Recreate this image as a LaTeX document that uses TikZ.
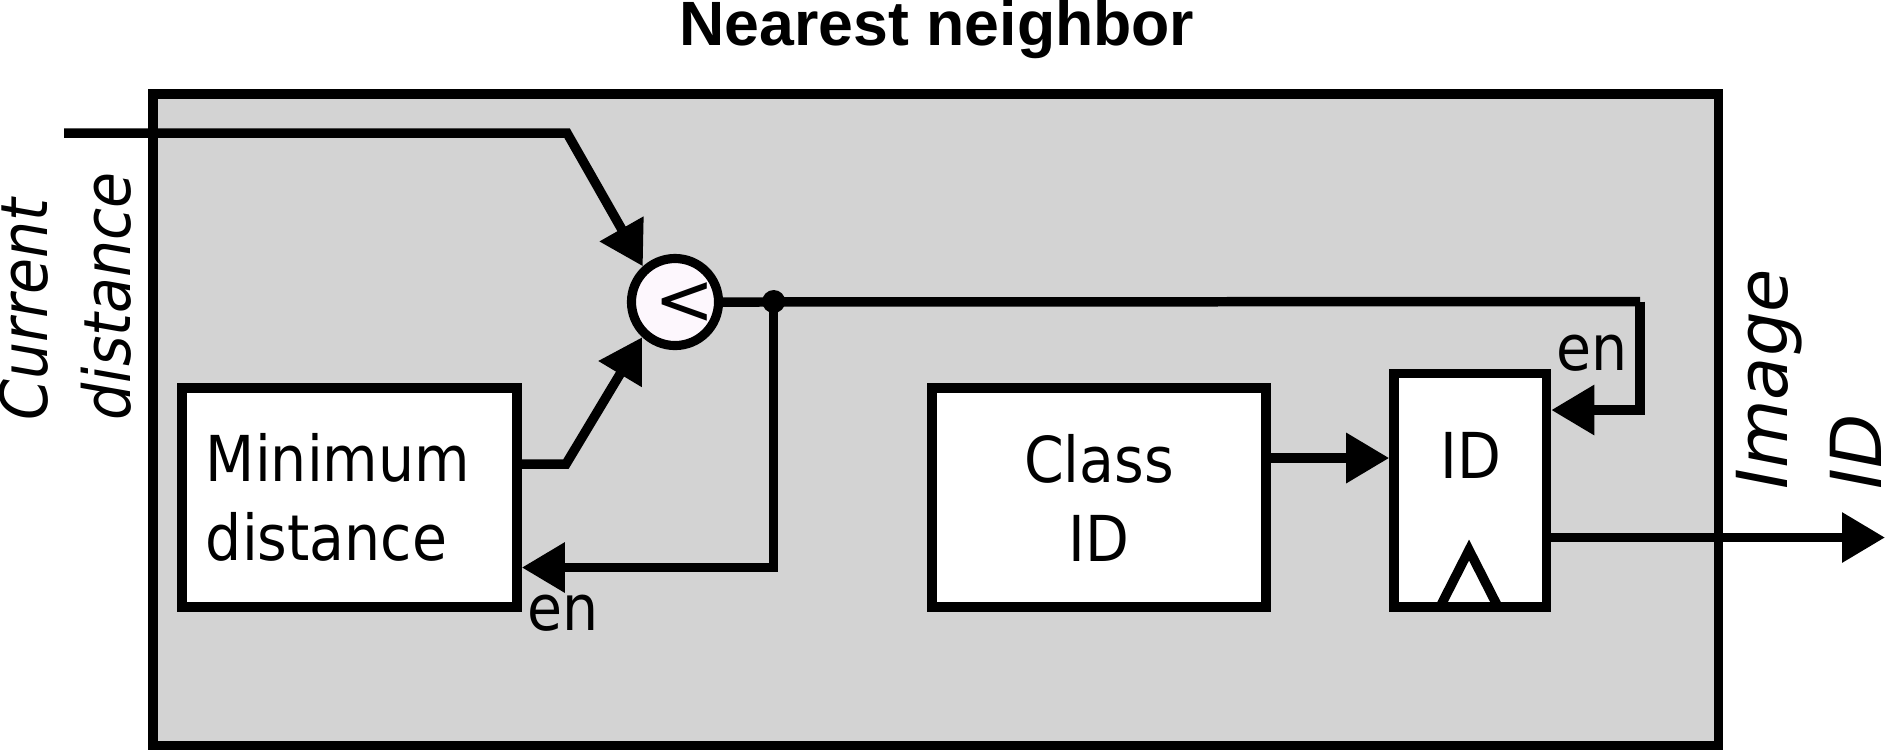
\documentclass[tikz,border=0pt]{standalone}
\usepackage{fontspec}
\setmainfont{DejaVu Sans}[FakeStretch=0.9]
\newfontfamily\plainfont{DejaVu Sans}
\newfontfamily\titlefont{Liberation Sans}
\usetikzlibrary{positioning,
                arrows.meta}                % arrow tips

\definecolor{framegray}{RGB}{211,211,211}
\definecolor{cmpfill}{RGB}{253,247,253}

\tikzset{
  wire/.style={line width=2.7pt},
  arr/.style={wire, -{Triangle[length=0.43cm, width=0.48cm]}},
  block/.style={draw, line width=2.7pt, fill=white, inner sep=0pt},
}

\begin{document}
\begin{tikzpicture}[x=0.01cm, y=-0.01cm, font=\fontsize{18}{22.5}\selectfont]
        \useasboundingbox (0,0) rectangle (1885,750);

        \node[anchor=base, font=\titlefont\bfseries\fontsize{17.8}{21}\selectfont] (title) at (937,45) {Nearest neighbor};

        \draw[fill=framegray, line width=2.7pt] (153,94) rectangle (1718.5,745.5);

        % blocks
        \node[block, minimum width=3.35cm, minimum height=2.19cm, text width=2.87cm, align=left] (mindist) at (349.5,497.5) {Minimum\\distance};
        \node[block, minimum width=3.34cm, minimum height=2.19cm, align=center] (classid) at (1099,497.5) {Class\\ID};
        \node[block, minimum width=1.525cm, minimum height=2.335cm] (idreg) at (1470.25,490.25) {};
        \node[anchor=base] (idtxt) at (1471,478) {ID};

        \node[circle, draw, line width=2.6pt, fill=cmpfill, minimum size=0.87cm, inner sep=0pt] (cmp) at (675,302) {};
        \node[inner sep=0pt, font=\plainfont\fontsize{20.5}{20.5}\selectfont] (cmpsym) at (685,304) {<};

        \coordinate (cdin) at (64,133);
        \coordinate (cdbend) at (567,133);
        \coordinate (mdbend) at (566,464);
        \coordinate (rturn) at (1640,301.5);
        \coordinate (rdown) at (1640,410);
        \coordinate (dturn) at (773.7,567.5);
        \coordinate (clsout) at (1266,458);
        \coordinate (imgout) at (1885,537.5);

        % wires
        \draw[arr] (cdin) -- (cdbend) -- (cmp.132);
        \draw[arr] (mindist.east |- mdbend) -- (mdbend) -- (cmp.227);
        \draw[wire] (cmp.east) -- (rturn);
        \draw[arr] (rturn) -- (rdown) -- (idreg.east |- rdown);
        \draw[arr] (rturn -| dturn) -- (dturn) -- (mindist.east |- dturn);
        \draw[arr] (classid.east |- clsout) -- (idreg.west |- clsout);
        \draw[arr] (idreg.east |- imgout) -- (imgout);
        \draw[wire] (1440,607) -- (1469,550) -- (1498,607);

        \node[circle, fill, minimum size=0.23cm, inner sep=0pt] (dot) at (rturn -| dturn) {};

        \node[anchor=base] (enmin) at (563,630) {en};
        \node[anchor=base] (enid) at (1592,370) {en};

        \node[rotate=90, anchor=west, align=left, inner sep=0pt, font=\itshape\fontsize{18.5}{23.6}\selectfont] (curdist) at (65,421) {Current\\distance};
        \node[rotate=90, anchor=west, align=left, inner sep=0pt, font=\plainfont\itshape\fontsize{20}{26.7}\selectfont] (imgid) at (1809,490) {Image\\ID};
\end{tikzpicture}
\end{document}
